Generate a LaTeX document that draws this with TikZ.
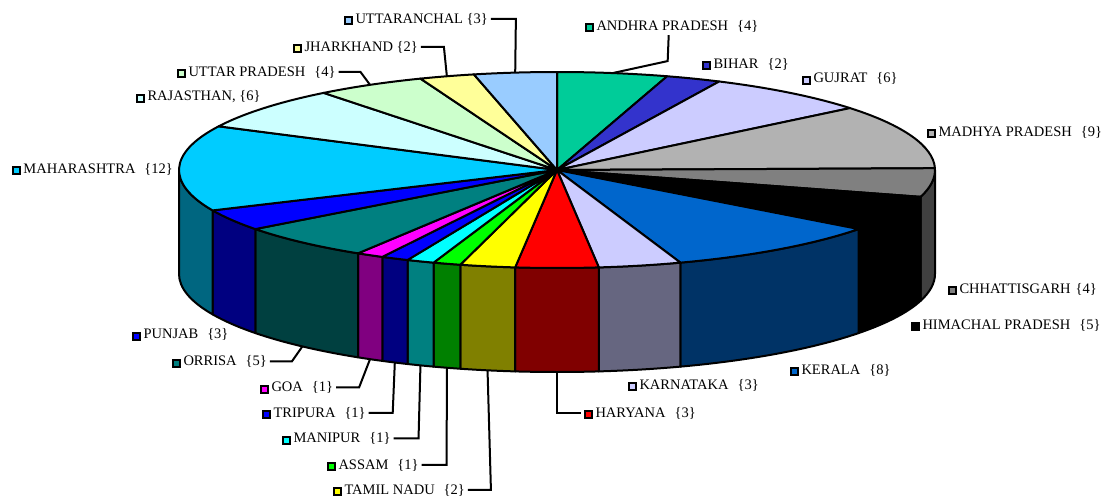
\documentclass[tikz,border=0pt]{standalone}
\usepackage{fontspec}
\setmainfont{Liberation Serif}
\usepackage{xcolor}
\usepackage{tikz}

% slice colours (top) and darker side colours
\definecolor{andhra}{HTML}{00CC99}
\definecolor{bihar}{HTML}{3333CC}
\definecolor{gujrat}{HTML}{CCCCFF}
\definecolor{madhya}{HTML}{B2B2B2}
\definecolor{chhat}{HTML}{808080}
\definecolor{chhatside}{HTML}{404040}
\definecolor{himachal}{HTML}{000000}
\definecolor{kerala}{HTML}{0066CC}
\definecolor{keralaside}{HTML}{003366}
\definecolor{karnataka}{HTML}{CCCCFF}
\definecolor{karnatakaside}{HTML}{666680}
\definecolor{haryana}{HTML}{FF0000}
\definecolor{haryanaside}{HTML}{800000}
\definecolor{tamil}{HTML}{FFFF00}
\definecolor{tamilside}{HTML}{808000}
\definecolor{assam}{HTML}{00FF00}
\definecolor{assamside}{HTML}{008000}
\definecolor{manipur}{HTML}{00FFFF}
\definecolor{manipurside}{HTML}{008080}
\definecolor{tripura}{HTML}{0000FF}
\definecolor{tripuraside}{HTML}{000080}
\definecolor{goa}{HTML}{FF00FF}
\definecolor{goaside}{HTML}{800080}
\definecolor{orrisa}{HTML}{008080}
\definecolor{orrisaside}{HTML}{004040}
\definecolor{punjab}{HTML}{0000FF}
\definecolor{punjabside}{HTML}{000080}
\definecolor{maha}{HTML}{00CCFF}
\definecolor{mahaside}{HTML}{006680}
\definecolor{rajasthan}{HTML}{CCFFFF}
\definecolor{uttarp}{HTML}{CCFFCC}
\definecolor{jharkhand}{HTML}{FFFF99}
\definecolor{uttaranchal}{HTML}{99CCFF}

\newcommand\swatch[1]{{\setlength\fboxsep{0pt}\setlength\fboxrule{2pt}%
  \fcolorbox{black}{#1}{\rule{0pt}{5pt}\rule{5pt}{0pt}}}\hspace{2.5pt}}
\newcommand\lgap{\hspace{9pt}}

\begin{document}
\begin{tikzpicture}[x=1pt, y=-1pt,
  face/.style={draw=black, line width=2pt, line join=round},
  lbl/.style={anchor=base west, inner sep=0pt, outer xsep=3pt,
              font=\fontsize{14.5}{17}\selectfont},
  leader/.style={draw=black, line width=2pt}
]
\useasboundingbox (0,0) rectangle (1107,498);
\coordinate (O) at (557,170);
% sides of the front half (one unit = 360/85 degrees)
\foreach \ua/\ub/\col in {21.25/25/chhatside, 25/30/himachal, 30/38/keralaside,
    38/41/karnatakaside, 41/44/haryanaside, 44/46/tamilside, 46/47/assamside,
    47/48/manipurside, 48/49/tripuraside, 49/50/goaside, 50/55/orrisaside,
    55/58/punjabside, 58/63.75/mahaside}{
  \pgfmathsetmacro\sa{90-\ua*4.235294}
  \pgfmathsetmacro\sb{90-\ub*4.235294}
  \filldraw[face, fill=\col] ([shift={(\sa:378pt and 98pt)}]O)
    arc[start angle=\sa, end angle=\sb, x radius=378pt, y radius=98pt]
    -- ++(0,104)
    arc[start angle=\sb, end angle=\sa, x radius=378pt, y radius=98pt] -- cycle;
}
% top faces
\foreach \ua/\ub/\col in {0/4/andhra, 4/6/bihar, 6/12/gujrat, 12/21/madhya,
    21/25/chhat, 25/30/himachal, 30/38/kerala, 38/41/karnataka, 41/44/haryana,
    44/46/tamil, 46/47/assam, 47/48/manipur, 48/49/tripura, 49/50/goa,
    50/55/orrisa, 55/58/punjab, 58/70/maha, 70/76/rajasthan, 76/80/uttarp,
    80/82/jharkhand, 82/85/uttaranchal}{
  \pgfmathsetmacro\sa{90-\ua*4.235294}
  \pgfmathsetmacro\sb{90-\ub*4.235294}
  \filldraw[face, fill=\col] (O) -- ([shift={(\sa:378pt and 98pt)}]O)
    arc[start angle=\sa, end angle=\sb, x radius=378pt, y radius=98pt] -- cycle;
}

% leader ends on the pie
\path ([shift={(96.35:378pt and 98pt)}]O) coordinate (p-ut);
\path ([shift={(106.94:378pt and 98pt)}]O) coordinate (p-jh);
\path ([shift={(119.65:378pt and 98pt)}]O) coordinate (p-up);
\path ([shift={(81.53:378pt and 98pt)}]O) coordinate (p-an);
\path ([shift={(-90:378pt and 98pt)}]O) ++(0,104) coordinate (p-ha);
\path ([shift={(-100.59:378pt and 98pt)}]O) ++(0,104) coordinate (p-ta);
\path ([shift={(-106.94:378pt and 98pt)}]O) ++(0,104) coordinate (p-as);
\path ([shift={(-111.18:378pt and 98pt)}]O) ++(0,104) coordinate (p-mn);
\path ([shift={(-115.41:378pt and 98pt)}]O) ++(0,104) coordinate (p-tr);
\path ([shift={(-119.65:378pt and 98pt)}]O) ++(0,104) coordinate (p-goa);
\path ([shift={(-132.35:378pt and 98pt)}]O) ++(0,104) coordinate (p-or);

% labels
\node[lbl] (uttaranchal) at (341,23) {\swatch{uttaranchal}UTTARANCHAL \{3\}};
\node[lbl] (jharkhand) at (290,51) {\swatch{jharkhand}JHARKHAND \{2\}};
\node[lbl] (uttarp) at (174,76) {\swatch{uttarp}UTTAR PRADESH\lgap\{4\}};
\node[lbl] (rajasthan) at (133,100.5) {\swatch{rajasthan}RAJASTHAN, \{6\}};
\node[lbl] (maharashtra) at (9,173) {\swatch{maha}MAHARASHTRA\lgap\{12\}};
\node[lbl] (andhra) at (582,30) {\swatch{andhra}ANDHRA PRADESH\lgap\{4\}};
\node[lbl] (bihar) at (699,68) {\swatch{bihar}BIHAR\lgap\{2\}};
\node[lbl] (gujrat) at (799,82.5) {\swatch{gujrat}GUJRAT\lgap\{6\}};
\node[lbl] (madhya) at (924,136) {\swatch{madhya}MADHYA PRADESH\lgap\{9\}};
\node[lbl] (chhattisgarh) at (945,293) {\swatch{chhat}CHHATTISGARH\hspace{5pt}\{4\}};
\node[lbl] (himachal) at (908,329) {\swatch{himachal}HIMACHAL PRADESH\lgap\{5\}};
\node[lbl] (kerala) at (787,374) {\swatch{kerala}KERALA\lgap\{8\}};
\node[lbl] (karnataka) at (625,389) {\swatch{karnataka}KARNATAKA\lgap\{3\}};
\node[lbl] (haryana) at (581,417) {\swatch{haryana}HARYANA\lgap\{3\}};
\node[lbl] (tamil) at (330,494) {\swatch{tamil}TAMIL NADU\lgap\{2\}};
\node[lbl] (assam) at (324,469) {\swatch{assam}ASSAM\lgap\{1\}};
\node[lbl] (manipur) at (279,442.5) {\swatch{manipur}MANIPUR\lgap\{1\}};
\node[lbl] (tripura) at (259,417) {\swatch{tripura}TRIPURA\lgap\{1\}};
\node[lbl] (goa) at (257,391.5) {\swatch{goa}GOA\lgap\{1\}};
\node[lbl] (orrisa) at (169,365.5) {\swatch{orrisa}ORRISA\lgap\{5\}};
\node[lbl] (punjab) at (129,338.5) {\swatch{punjab}PUNJAB\lgap\{3\}};

% leader lines
\draw[leader] (uttaranchal.east) -- ++(25,0) -- (p-ut);
\draw[leader] (jharkhand.east) -- ++(23,0) -- (p-jh);
\draw[leader] (uttarp.east) -- ++(22,0) -- (p-up);
\draw[leader] (p-an) -- ++(55,-12) -- ([xshift=-3pt,yshift=-3pt]andhra.south);
\draw[leader] (p-ha) |- (haryana.west);
\draw[leader] (tamil.east) -- ++(23,0) -- (p-ta);
\draw[leader] (assam.east) -- ++(25,0) -- (p-as);
\draw[leader] (manipur.east) -- ++(25,0) -- (p-mn);
\draw[leader] (tripura.east) -- ++(24,0) -- (p-tr);
\draw[leader] (goa.east) -- ++(23,0) -- (p-goa);
\draw[leader] (orrisa.east) -- ++(22,0) -- (p-or);
\end{tikzpicture}
\end{document}
